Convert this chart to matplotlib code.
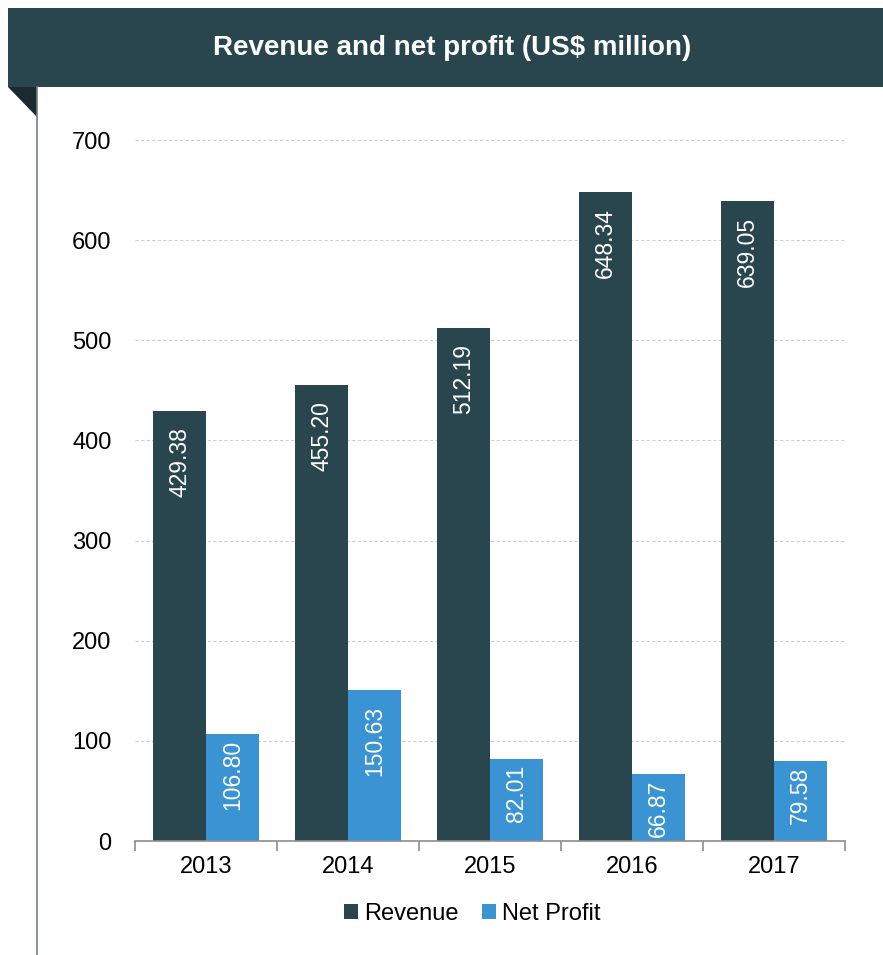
import matplotlib
matplotlib.use("Agg")
import matplotlib.pyplot as plt
from matplotlib.patches import Rectangle, Polygon
from matplotlib.lines import Line2D
import numpy as np

plt.rcParams['font.family'] = ['Liberation Sans', 'DejaVu Sans']

years = ["2013", "2014", "2015", "2016", "2017"]
revenue = [429.38, 455.20, 512.19, 648.34, 639.05]
net_profit = [106.80, 150.63, 82.01, 66.87, 79.58]

W, H = 883, 955
fig = plt.figure(figsize=(W/100, H/100), dpi=100)

dark = '#29464F'
blue = '#3A93D2'

# header banner
fig.patches.append(Rectangle((8/W, 1-87/H), 1-8/W, 79/H, transform=fig.transFigure,
                             facecolor=dark, edgecolor='none'))
fig.patches.append(Polygon([(8/W, 1-87/H), (37/W, 1-87/H), (37/W, 1-117/H)], closed=True,
                           transform=fig.transFigure, facecolor='#1A2A30', edgecolor='none'))
fig.lines.append(Line2D([37/W, 37/W], [0, 1-87/H], transform=fig.transFigure,
                        color='#6F8089', lw=1.2))
fig.text(452/W, 1-48/H, "Revenue and net profit (US$ million)", color='white',
         fontsize=20, fontweight='bold', ha='center', va='center')

ax = fig.add_axes([135/W, 1-841/H, 710/W, 701/H])
x = np.arange(len(years))
bw = 0.373
b1 = ax.bar(x - bw/2, revenue, bw, color=dark, label='Revenue', zorder=2)
b2 = ax.bar(x + bw/2, net_profit, bw, color=blue, label='Net Profit', zorder=2)

for bars, vals in ((b1, revenue), (b2, net_profit)):
    for r, v in zip(bars, vals):
        off = -11.5 if v > 130 else -4.0
        ax.annotate(f"{v:.2f}", (r.get_x() + r.get_width()/2, v), xytext=(0, off),
                    textcoords='offset points', rotation=90, ha='center', va='top',
                    color='white', fontsize=16.5, zorder=3)

ax.set_xlim(-0.5, len(years) - 0.5)
ax.set_ylim(0, 700)
ax.set_yticks(np.arange(0, 701, 100))
ax.yaxis.grid(True, color='#D0D0D0', linestyle=(0, (3, 2)), lw=0.8, zorder=0)
ax.set_axisbelow(True)
for s in ('top', 'right', 'left'):
    ax.spines[s].set_visible(False)
ax.spines['bottom'].set_color('#8C8C8C')
ax.spines['bottom'].set_linewidth(1.2)
ax.set_xticks(x)
ax.set_xticklabels(years)
ax.set_xticks(np.arange(-0.5, len(years)), minor=True)
ax.tick_params(axis='x', which='major', length=0, pad=11, labelsize=17)
ax.tick_params(axis='x', which='minor', length=7, color='#8C8C8C', width=1.2, direction='out')
ax.tick_params(axis='y', length=0, pad=17, labelsize=17)

ax.legend(loc='center', bbox_to_anchor=(472/W, 1-914/H), bbox_transform=fig.transFigure,
          ncol=2, frameon=False, fontsize=17, handlelength=0.6, handleheight=0.6,
          handletextpad=0.25, columnspacing=1.0)

fig.savefig("out.png", dpi=100)
